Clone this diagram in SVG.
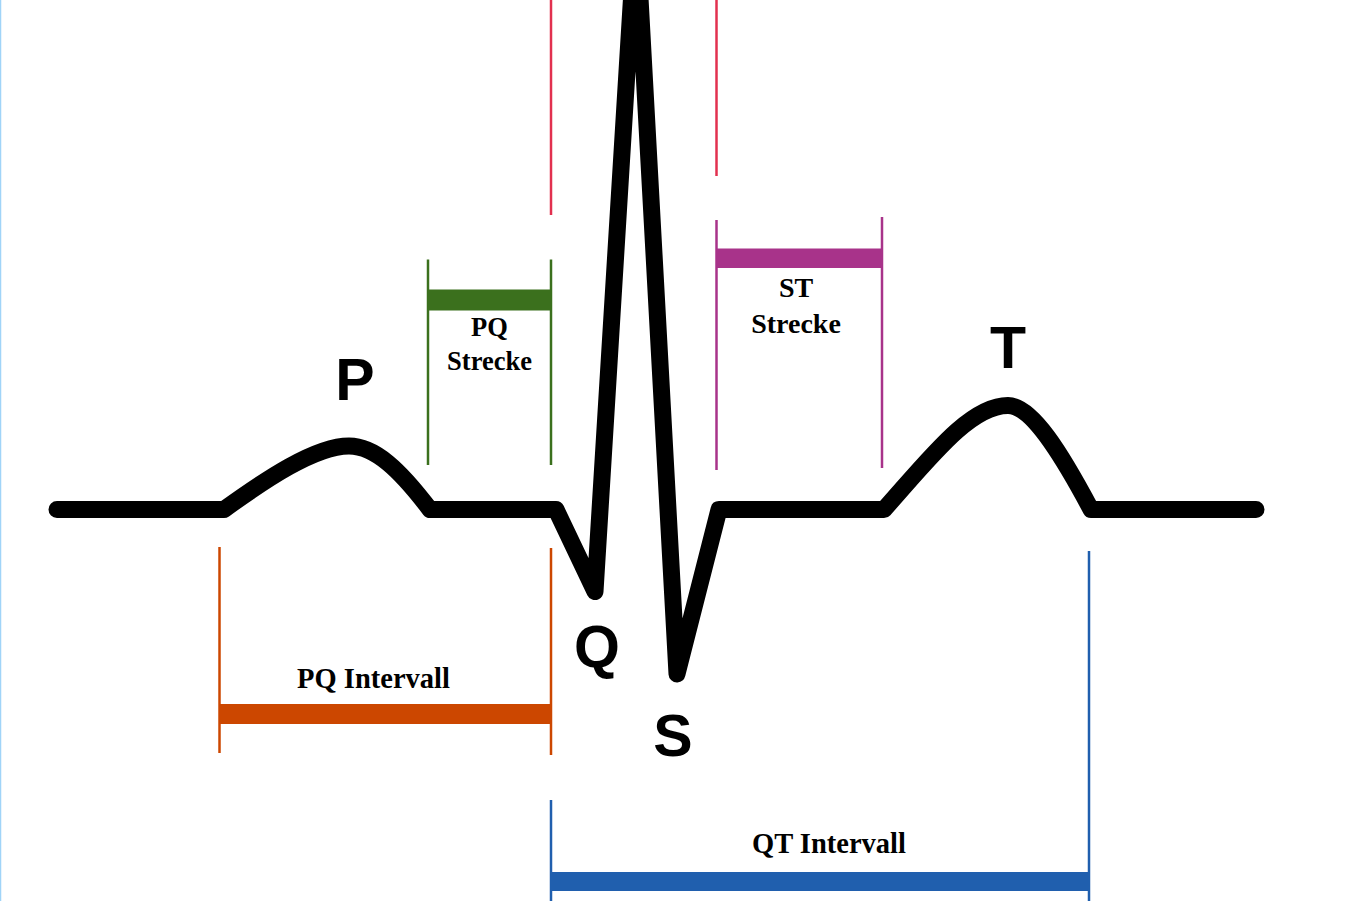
<svg xmlns="http://www.w3.org/2000/svg" width="1352" height="901" viewBox="0 0 1352 901">
<style>
.wave{font-family:"Liberation Sans",Arial,sans-serif;font-weight:bold;font-size:59px;fill:#000;text-anchor:middle}
.lab{font-family:"Liberation Serif","Times New Roman",serif;font-weight:bold;fill:#000;text-anchor:middle}
.thin{fill:none;stroke-width:2.5}
.trace{fill:none;stroke:#000;stroke-width:17;stroke-linejoin:round;stroke-linecap:round}
</style>
<rect x="0" y="0" width="1352" height="901" fill="#fff"/>
<line x1="0.5" y1="0" x2="0.5" y2="901" stroke="#a0d4f8" stroke-width="1.5"/>

<g id="markers">
<line class="thin" x1="551" y1="0" x2="551" y2="215" stroke="#e2304f"/>
<line class="thin" x1="716.5" y1="0" x2="716.5" y2="176" stroke="#e2304f"/>
</g>

<g id="pq-strecke">
<line class="thin" x1="428" y1="259.5" x2="428" y2="465" stroke="#3b701d"/>
<line class="thin" x1="551" y1="259.5" x2="551" y2="465" stroke="#3b701d"/>
<rect x="428" y="289.5" width="123" height="21" fill="#3b701d"/>
<text class="lab" x="489.5" y="336" font-size="26.5">PQ</text>
<text class="lab" x="489.5" y="369.5" font-size="26.5">Strecke</text>
</g>

<g id="st-strecke">
<line class="thin" x1="716.5" y1="220" x2="716.5" y2="470" stroke="#a8338a"/>
<line class="thin" x1="882" y1="217" x2="882" y2="468" stroke="#a8338a"/>
<rect x="716.5" y="248.5" width="165.5" height="19.5" fill="#a8338a"/>
<text class="lab" x="796" y="297" font-size="28">ST</text>
<text class="lab" x="796" y="333" font-size="28">Strecke</text>
</g>

<g id="pq-intervall">
<line class="thin" x1="219.5" y1="547" x2="219.5" y2="753" stroke="#cc4700"/>
<line class="thin" x1="551" y1="548" x2="551" y2="755" stroke="#cc4700"/>
<rect x="219.5" y="704" width="331.5" height="20" fill="#cc4700"/>
<text class="lab" x="373.5" y="688" font-size="28.5">PQ Intervall</text>
</g>

<g id="qt-intervall">
<line class="thin" x1="551" y1="800" x2="551" y2="901" stroke="#205fae"/>
<line class="thin" x1="1089" y1="551" x2="1089" y2="901" stroke="#205fae"/>
<rect x="551" y="872" width="538" height="19" fill="#205fae"/>
<text class="lab" x="829" y="853" font-size="28.5">QT Intervall</text>
</g>

<g id="ecg-trace">
<path class="trace" d="M57,509.5 L224,509.5 C265,480 315,446 349,446 C375,446 400,470 430,509.5 L556,509.5 L595,591.5 L636,-75 L677,674 L719,509.5 L884,509.5 C930,458 970,405.5 1008,405.5 C1032,405.5 1062,455 1091,509.5 L1256,509.5"/>
</g>

<g id="label-P"><text class="wave" x="355" y="400">P</text></g>
<g id="label-Q"><text class="wave" x="597" y="667">Q</text></g>
<g id="label-S"><text class="wave" x="673" y="756">S</text></g>
<g id="label-T"><text class="wave" x="1008" y="368">T</text></g>
</svg>
